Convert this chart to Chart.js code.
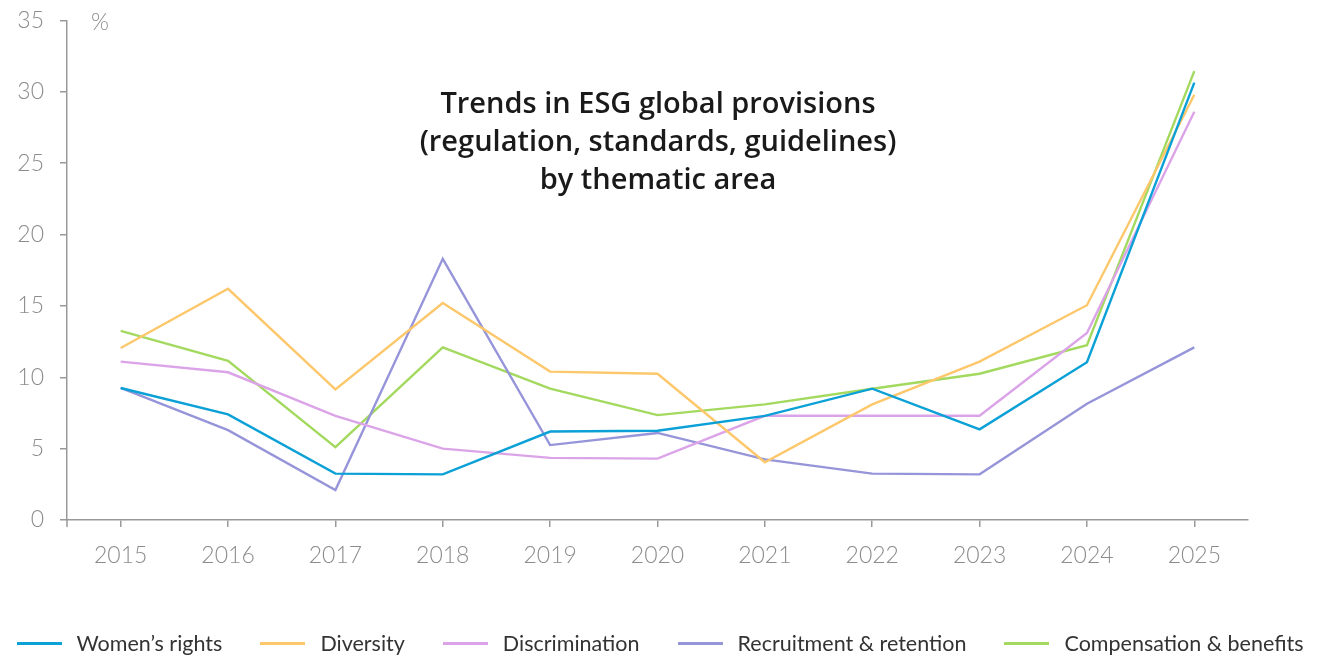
<!DOCTYPE html>
<html>
<head>
<meta charset="utf-8">
<script src="https://cdn.jsdelivr.net/npm/chart.js@4"></script>
<style>
  html, body { margin: 0; padding: 0; background: #fff; }
  #wrap { width: 1324px; height: 656px; position: relative; overflow: hidden; }
  #box { position: absolute; left: 0; top: -7px; width: 1324px; height: 663px; }
  #legend {
      position: absolute; left: 0; width: 1320px; top: 630px;
      display: flex; justify-content: center; gap: 38px;
      font-family: Lato, "Open Sans", sans-serif; font-size: 21.5px; color: #333;
  }
  .item { display: flex; align-items: center; gap: 15px; white-space: nowrap; }
  .swatch { width: 45px; height: 3px; }
</style>
</head>
<body>
<div id="wrap">
  <div id="box"><canvas id="chart"></canvas></div>
  <div id="legend"></div>
</div>
<script>
// data
const years = ['2015', '2016', '2017', '2018', '2019', '2020', '2021', '2022', '2023', '2024', '2025'];
const womensRights = [9.25, 7.4, 3.25, 3.2, 6.2, 6.25, 7.3, 9.2, 6.35, 11.05, 30.65];
const diversity = [12.05, 16.2, 9.15, 15.2, 10.4, 10.25, 4.05, 8.1, 11.1, 15.05, 29.8];
const discrimination = [11.1, 10.35, 7.3, 5.0, 4.35, 4.3, 7.3, 7.3, 7.3, 13.1, 28.6];
const recruitment = [9.25, 6.3, 2.1, 18.3, 5.25, 6.1, 4.25, 3.25, 3.2, 8.15, 12.1];
const compensation = [13.25, 11.15, 5.1, 12.1, 9.2, 7.35, 8.1, 9.2, 10.25, 12.25, 31.45];
const yTicks = [0, 5, 10, 15, 20, 25, 30, 35];

const titleLines = ['Trends in ESG global provisions', '(regulation, standards, guidelines)', 'by thematic area'];

const GREY = '#8c8c8c';
const AXIS = '#999999';

function series(label, data, color) {
    return {
        label: label,
        data: data,
        borderColor: color,
        backgroundColor: color,
        borderWidth: 2.4,
        pointRadius: 0,
        tension: 0
    };
}

// title and "%" drawn inside the plot area (canvas sits 7px higher than the page)
const overlayText = {
    id: 'overlayText',
    afterDraw(chart) {
        const ctx = chart.ctx;
        const area = chart.chartArea;
        ctx.save();
        ctx.fillStyle = '#1a1a1a';
        ctx.font = '600 29px "Open Sans", Lato, sans-serif';
        ctx.textAlign = 'center';
        ctx.textBaseline = 'middle';
        titleLines.forEach((line, i) => {
            ctx.fillText(line, 658, 112 + i * 38);
        });
        ctx.fillStyle = GREY;
        ctx.font = '300 23px Lato, "Open Sans", sans-serif';
        ctx.textAlign = 'left';
        ctx.fillText('%', area.left + 24, 30);
        // small extension of the y axis below the x axis
        ctx.strokeStyle = AXIS;
        ctx.lineWidth = 1.5;
        ctx.beginPath();
        ctx.moveTo(area.left, area.bottom);
        ctx.lineTo(area.left, area.bottom + 7);
        ctx.stroke();
        ctx.restore();
    }
};

const chart = new Chart(document.getElementById('chart'), {
    type: 'line',
    data: {
        labels: years,
        datasets: [
            series('Women\u2019s rights', womensRights, '#0ba0d6'),
            series('Diversity', diversity, '#fdc76c'),
            series('Discrimination', discrimination, '#dca4e8'),
            series('Recruitment & retention', recruitment, '#9795d9'),
            series('Compensation & benefits', compensation, '#a3d95e')
        ]
    },
    options: {
        responsive: true,
        maintainAspectRatio: false,
        animation: false,
        layout: { padding: { left: 0, right: 76, top: 0, bottom: 64 } },
        plugins: {
            title: { display: false },
            tooltip: { enabled: false },
            legend: { display: false }
        },
        scales: {
            x: {
                offset: true,
                grid: {
                    offset: false,
                    drawOnChartArea: false,
                    drawTicks: true,
                    tickLength: 7,
                    color: AXIS,
                    lineWidth: 1.5
                },
                border: { color: AXIS, width: 1.5 },
                ticks: {
                    color: GREY,
                    padding: 15,
                    font: { family: 'Lato, "Open Sans", sans-serif', size: 23, weight: '300' }
                },
                afterFit: s => { s.height = 72; }
            },
            y: {
                min: 0,
                max: 35,
                afterBuildTicks: s => { s.ticks = yTicks.map(v => ({ value: v })); },
                grid: {
                    drawOnChartArea: false,
                    drawTicks: true,
                    tickLength: 7,
                    color: AXIS,
                    lineWidth: 1.5
                },
                border: { color: AXIS, width: 1.5 },
                ticks: {
                    color: GREY,
                    padding: 16,
                    font: { family: 'Lato, "Open Sans", sans-serif', size: 23, weight: '300', lineHeight: 1 }
                },
                afterFit: s => { s.width = 67; }
            }
        }
    },
    plugins: [overlayText]
});

// legend as html below the chart
document.getElementById('legend').innerHTML = chart.data.datasets.map(ds => `
    <div class="item">
        <span class="swatch" style="background:${ds.borderColor}"></span>
        <span>${ds.label}</span>
    </div>
`).join('');
</script>
</body>
</html>
